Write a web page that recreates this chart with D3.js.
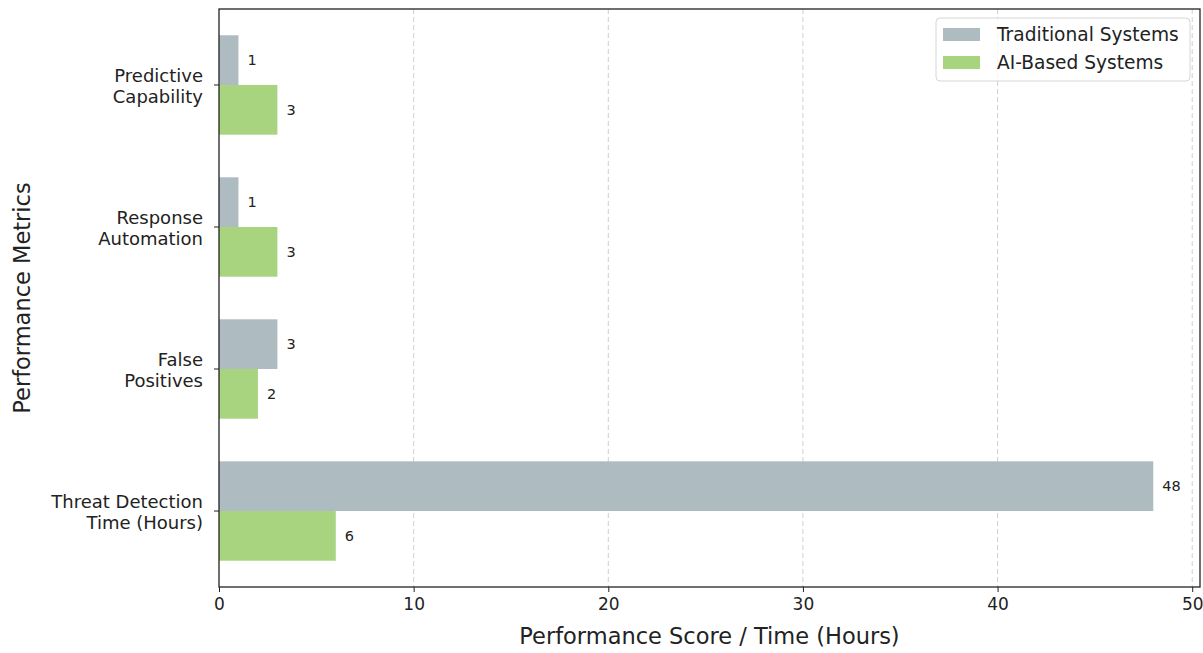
<!DOCTYPE html>
<html>
<head>
<meta charset="utf-8">
<script src="https://d3js.org/d3.v7.min.js"></script>
<style>
  body { margin: 0; background: #fff; }
  svg text { font-family: "DejaVu Sans", sans-serif; fill: #222; }
  .grid line { stroke: #cfcfcf; stroke-dasharray: 5,3; stroke-width: 1; }
  .axis path, .axis line { stroke: #222; }
  .axis text { font-size: 17px; }
</style>
</head>
<body>
<div id="chart"></div>
<script>
  var categories = ["Threat Detection\nTime (Hours)", "False\nPositives", "Response\nAutomation", "Predictive\nCapability"];
  var traditional = [48, 3, 1, 1];
  var aiBased = [6, 2, 3, 3];
  var seriesNames = ["Traditional Systems", "AI-Based Systems"];
  var colors = ["#aebcc2", "#a9d47f"];
  var xTicks = [0, 10, 20, 30, 40, 50];

  var W = 1203, H = 653;
  var margin = {top: 9, right: 3, bottom: 66, left: 219};
  var width = W - margin.left - margin.right;
  var height = H - margin.top - margin.bottom;

  var svg = d3.select("#chart").append("svg")
    .attr("width", W).attr("height", H);
  var g = svg.append("g").attr("transform", "translate(" + margin.left + "," + margin.top + ")");

  var x = d3.scaleLinear().domain([0, 50.4]).range([0, width]);
  // index scale, like matplotlib: bars at 0..3, bottom to top
  var y = d3.scaleLinear().domain([-0.535, 3.535]).range([height, 0]);
  var barH = 0.35;

  // grid
  g.append("g").attr("class", "grid")
    .selectAll("line").data(xTicks.slice(1)).enter().append("line")
    .attr("x1", function(d) { return x(d); }).attr("x2", function(d) { return x(d); })
    .attr("y1", 0).attr("y2", height);

  var series = [traditional, aiBased];
  series.forEach(function(vals, s) {
    g.append("g").selectAll("rect").data(vals).enter().append("rect")
      .attr("x", x(0))
      .attr("y", function(d, i) { return s == 0 ? y(i + barH) : y(i); })
      .attr("width", function(d) { return x(d) - x(0); })
      .attr("height", y(0) - y(barH))
      .attr("fill", colors[s]);

    g.append("g").selectAll("text").data(vals).enter().append("text")
      .attr("x", function(d) { return x(d) + 9; })
      .attr("y", function(d, i) { return s == 0 ? y(i + barH / 2) : y(i - barH / 2); })
      .attr("dy", "0.35em")
      .style("font-size", "14.5px")
      .text(function(d) { return d; });
  });

  // axes
  var xAxis = d3.axisBottom(x).tickValues(xTicks).tickSize(5).tickPadding(6);
  g.append("g").attr("class", "axis").attr("transform", "translate(0," + height + ")").call(xAxis)
    .select(".domain").remove();

  var yTicks = g.append("g").attr("class", "axis");
  categories.forEach(function(c, i) {
    yTicks.append("line").attr("x1", -5).attr("x2", 0).attr("y1", y(i)).attr("y2", y(i));
    var lines = c.split("\n");
    var t = yTicks.append("text").attr("text-anchor", "end")
      .attr("x", -16).attr("y", y(i)).style("font-size", "18px");
    lines.forEach(function(l, k) {
      t.append("tspan").attr("x", -16)
        .attr("dy", k == 0 ? (-(lines.length - 1) * 0.6 + 0.42) + "em" : "1.2em")
        .text(l);
    });
  });

  // frame
  g.append("rect").attr("width", width).attr("height", height)
    .attr("fill", "none").attr("stroke", "#222").attr("stroke-width", 1.3);

  // axis titles
  svg.append("text").attr("x", margin.left + width / 2).attr("y", 644)
    .attr("text-anchor", "middle").style("font-size", "22.5px")
    .text("Performance Score / Time (Hours)");
  svg.append("text").attr("transform", "translate(30," + (margin.top + height / 2) + ") rotate(-90)")
    .attr("text-anchor", "middle").style("font-size", "22.5px")
    .text("Performance Metrics");

  // legend
  var lg = svg.append("g").attr("transform", "translate(936,18)");
  lg.append("rect").attr("width", 254).attr("height", 63).attr("rx", 4)
    .attr("fill", "#fff").attr("fill-opacity", 0.8).attr("stroke", "#d6d6d6");
  seriesNames.forEach(function(n, i) {
    lg.append("rect").attr("x", 7).attr("y", 10 + i * 28).attr("width", 37).attr("height", 13)
      .attr("fill", colors[i]);
    lg.append("text").attr("x", 61).attr("y", 16.5 + i * 28).attr("dy", "0.35em")
      .style("font-size", "18.6px").text(n);
  });
</script>
</body>
</html>
